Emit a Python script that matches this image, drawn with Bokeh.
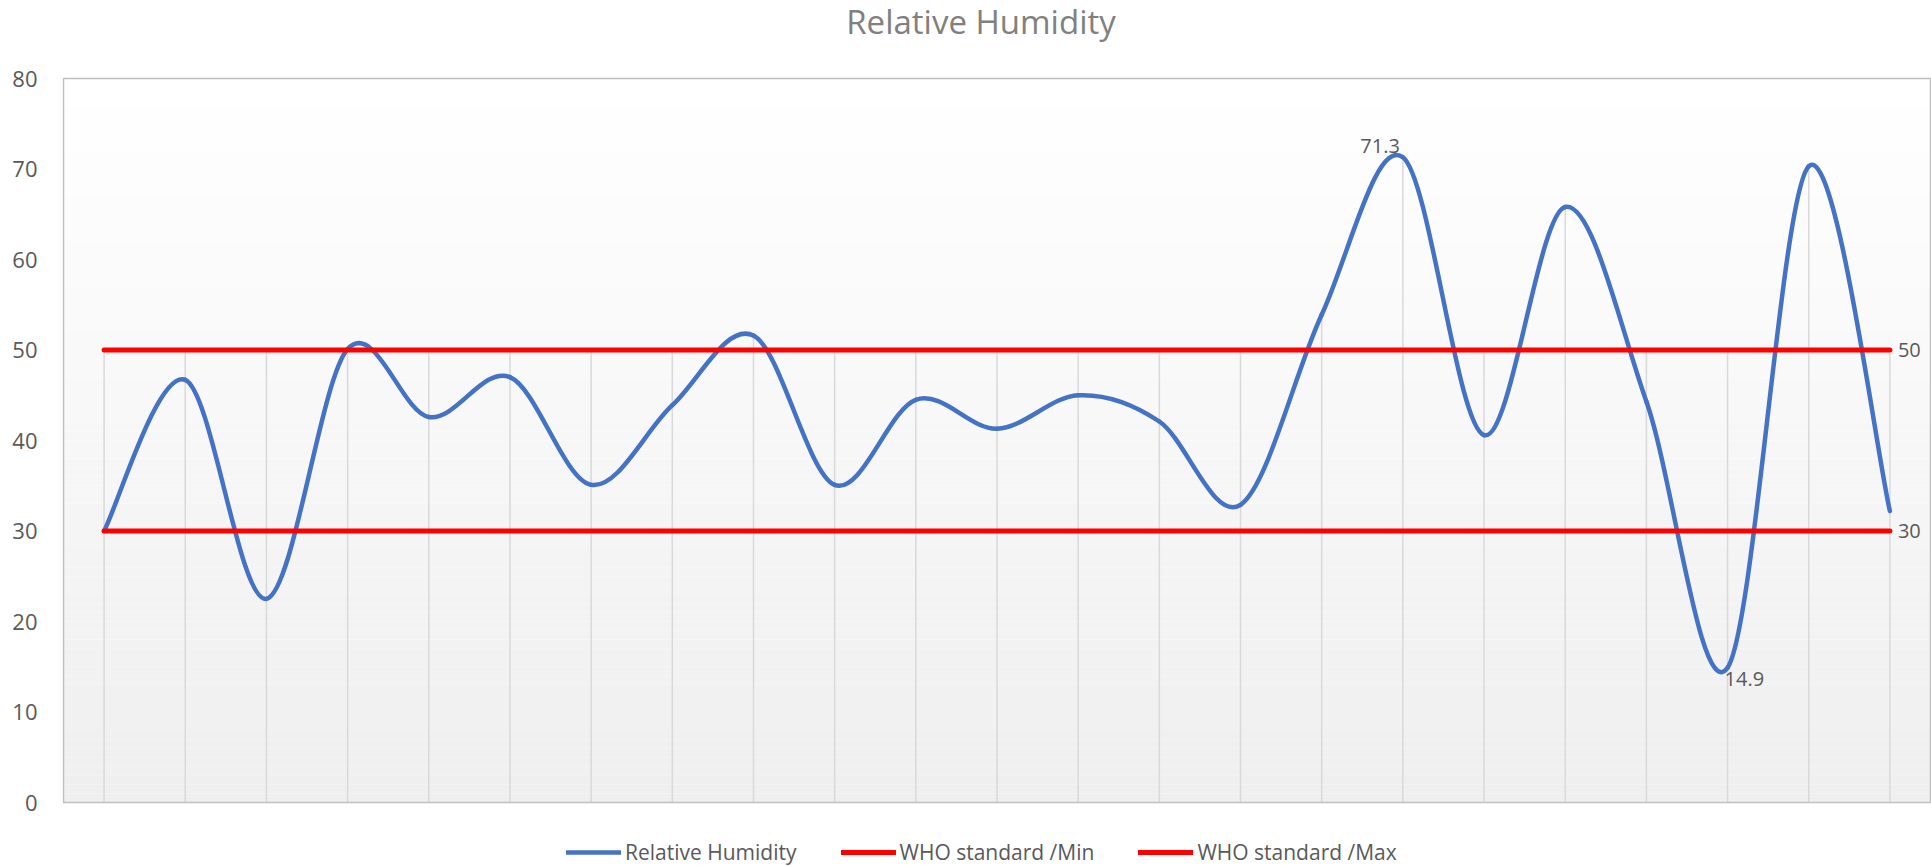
import numpy as np
from bokeh.plotting import figure
from bokeh.models import Range1d, FixedTicker, Legend, LegendItem, Label
from bokeh.embed import file_html
from bokeh.resources import INLINE

# ---------------- data ----------------
title_text = "Relative Humidity"
samples = list(range(1, 24))
humidity = [30.0, 46.7, 22.5, 50.1, 42.6, 47.0, 35.1, 43.9, 51.6, 35.1, 44.5, 41.3,
            45.0, 42.1, 32.9, 53.9, 71.3, 40.6, 65.8, 44.3, 14.9, 70.3, 32.2]
who_min_value = 30
who_max_value = 50
who_min = [who_min_value] * len(samples)
who_max = [who_max_value] * len(samples)
y_ticks = [0, 10, 20, 30, 40, 50, 60, 70, 80]
series_names = ["Relative Humidity", "WHO standard /Min", "WHO standard /Max"]

# ---------------- layout / styling ----------------
FONT = "Open Sans"
TXT = "#595959"
BLUE = "#4472c4"
RED = "#ff0000"
W, H = 1931, 866
AX_W = 62                       # width of the y-axis panel
PA_L, PA_R, PA_T, PA_B = 63, 1930, 78, 802   # plot-area box in page pixels

xs = np.arange(len(samples), dtype=float)
x_lo, x_hi = -0.5, len(samples) - 0.5
y_lo, y_hi = y_ticks[0], y_ticks[-1]
px_x = (PA_R - PA_L) / (x_hi - x_lo)
px_y = (PA_B - PA_T) / (y_hi - y_lo)

x_range = Range1d(x_lo - (PA_L - AX_W) / px_x, x_hi + (W - PA_R) / px_x)
y_range = Range1d(y_lo - (H - PA_B) / px_y, y_hi + PA_T / px_y)

p = figure(width=W, height=H, x_range=x_range, y_range=y_range,
           output_backend="svg", toolbar_location=None, x_axis_location=None,
           min_border_left=AX_W, min_border_right=0, min_border_top=0, min_border_bottom=0)

p.background_fill_color = "white"
p.border_fill_color = "white"
p.outline_line_color = None
p.xgrid.visible = False
p.ygrid.visible = False

ax = p.yaxis[0]
ax.ticker = FixedTicker(ticks=y_ticks)
ax.axis_line_color = None
ax.major_tick_line_color = None
ax.minor_tick_line_color = None
ax.major_label_text_font = FONT
ax.major_label_text_font_size = "22px"
ax.major_label_text_color = TXT
ax.major_label_standoff = 19

# plot-area gradient (white at top to light grey at bottom)
n_bands = 80
edges = np.linspace(y_lo, y_hi, n_bands + 1)
shades = np.linspace(0xef, 0xff, n_bands).round().astype(int)
band_colors = ["#%02x%02x%02x" % (s, s, s) for s in shades]
p.quad(left=x_lo, right=x_hi, bottom=edges[:-1], top=edges[1:],
       fill_color=band_colors, line_color=None)

# drop lines from the highest series value down to the axis
tops = np.maximum(np.array(humidity), np.array(who_max))
p.segment(x0=xs, y0=y_lo, x1=xs, y1=tops, line_color="#d9d9d9", line_width=1.5)

# plot-area border
p.quad(left=x_lo, right=x_hi, bottom=y_lo, top=y_hi, fill_color=None,
       line_color="#bfbfbf", line_width=1.5)

# smoothed humidity line (Catmull-Rom -> cubic Bezier)
h = np.array(humidity, dtype=float)
px = np.concatenate([[xs[0]], xs, [xs[-1]]])
py = np.concatenate([[h[0]], h, [h[-1]]])
tx = (px[2:] - px[:-2]) / 2.0
ty = (py[2:] - py[:-2]) / 2.0
r_hum = p.bezier(x0=xs[:-1], y0=h[:-1], x1=xs[1:], y1=h[1:],
                 cx0=xs[:-1] + tx[:-1] / 3.0, cy0=h[:-1] + ty[:-1] / 3.0,
                 cx1=xs[1:] - tx[1:] / 3.0, cy1=h[1:] - ty[1:] / 3.0,
                 line_color=BLUE, line_width=4.5, line_cap="round")

r_min = p.line(xs, who_min, line_color=RED, line_width=5, line_cap="round")
r_max = p.line(xs, who_max, line_color=RED, line_width=5, line_cap="round")

# title
p.add_layout(Label(x=(x_lo + x_hi) / 2, y=y_hi, text=title_text, text_align="center",
                   text_baseline="alphabetic", x_offset=-16, y_offset=57,
                   text_font=FONT, text_font_size="33px", text_color="#808080"))

# data labels
i_max = int(np.argmax(h))
i_min = int(np.argmin(h))
lab_kw = dict(text_font=FONT, text_font_size="20px", text_color=TXT)
p.add_layout(Label(x=xs[i_max], y=h[i_max], text="%.1f" % h[i_max],
                   text_align="right", text_baseline="bottom",
                   x_offset=-3, y_offset=4, **lab_kw))
p.add_layout(Label(x=xs[i_min], y=h[i_min], text="%.1f" % h[i_min],
                   text_align="left", text_baseline="top",
                   x_offset=-3, y_offset=-4, **lab_kw))
for v in (who_max[-1], who_min[-1]):
    p.add_layout(Label(x=xs[-1], y=v, text="%d" % v, text_align="left",
                       text_baseline="middle", x_offset=8, **lab_kw))

legend = Legend(items=[LegendItem(label=series_names[0], renderers=[r_hum]),
                       LegendItem(label=series_names[1], renderers=[r_min]),
                       LegendItem(label=series_names[2], renderers=[r_max])],
                location=(566 - AX_W, 0), orientation="horizontal",
                glyph_width=55, glyph_height=28, label_height=28,
                label_standoff=4, spacing=44,
                padding=0, margin=0, border_line_color=None,
                background_fill_alpha=0,
                label_text_font=FONT, label_text_font_size="21px",
                label_text_color=TXT)
p.add_layout(legend)

open("out.html", "w").write(file_html(p, INLINE))
